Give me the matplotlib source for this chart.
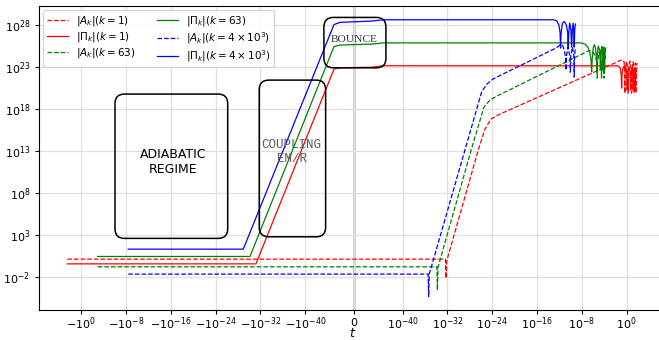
import numpy as np
import matplotlib
matplotlib.use('Agg')
import matplotlib.pyplot as plt
from matplotlib.patches import FancyBboxPatch
from matplotlib.ticker import NullLocator

# each curve: log10|t| for t < 0 (before the bounce), log10|t| for t > 0 (after it),
# and log10 of the amplitude, all read off the log axes
red_A_pre = [2.5]
red_A_post = [-32.36, -32.25, -32.14, -26.5, -25.3, -24.23, -22.63, -1.73, -1.2, -0.75,
              -0.43, -0.34, -0.30, -0.27, -0.04, 0.21, 0.29, 0.36, 0.59, 0.82, 0.89, 0.96,
              1.16, 1.3, 1.36, 1.41, 1.55, 1.66, 1.71, 1.77, 1.84]
red_A_logy = [0.14, 0.14, -2.12, -0.1, 13.12, 15.62, 16.81, 17.4, 23.6, 23.77, 23.89,
              23.6, 22.05, 19.9, 22.05, 23.71, 22.88, 19.9, 22.88, 23.71, 22.64, 19.9, 22.64,
              23.6, 22.4, 19.9, 22.4, 23.48, 22.4, 19.9, 22.4, 23.48]

red_P_pre = [2.5, -31.2, -45.13, -46.2]
red_P_post = [-45.48, -43.52, -1.55, -1.14, -0.96, -0.89, -0.82, -0.66, -0.39, -0.13, 0.05,
              0.11, 0.16, 0.41, 0.63, 0.71, 0.80, 1.0, 1.13, 1.18, 1.23, 1.36, 1.48, 1.54,
              1.59, 1.71]
red_P_logy = [-0.42, -0.42, 22.76, 22.92,
              22.98, 23.16, 23.15, 22.88, 22.05, 20.5, 22.05, 22.88, 23.18, 23.0, 22.05, 20.26,
              22.05, 23.0, 22.4, 20.26, 22.4, 22.88, 22.05, 20.26, 22.05, 22.76, 21.93, 20.26,
              21.93, 22.64]

green_A_pre = [-2.93]
green_A_post = [-33.89, -33.79, -33.68, -27.68, -25.48, -24.41, -23.16, -7.14, -6.55, -6.11,
                -5.57, -5.30, -5.25, -5.2, -4.89, -4.55, -4.48, -4.41, -4.27, -4.11, -4.05,
                -4.0, -3.88, -3.75]
green_A_logy = [-0.77, -0.77, -3.55, -0.81, 13.32, 18.24, 19.07, 19.55, 24.82, 24.96, 24.9,
                24.31, 23.6, 21.69, 23.6, 24.79, 23.6, 21.69, 23.6, 24.55, 23.6, 21.69, 23.6,
                24.55, 23.83]

green_P_pre = [-2.93, -30.13, -45.13, -46.2]
green_P_post = [-45.48, -43.52, -8.16, -7.45, -6.91, -6.55, -6.34, -6.25, -6.16, -5.96,
                -5.75, -5.54, -5.39, -5.34, -5.29, -5.07, -4.80, -4.68, -4.55, -4.41, -4.30,
                -4.25, -4.2, -4.07, -3.98, -3.93, -3.88, -3.75]
green_P_logy = [0.46, 0.46, 25.44, 25.62,
                25.74, 25.88, 25.88, 25.74, 25.38, 24.67, 23.83, 22.4, 23.83, 25.26, 25.68,
                25.26, 24.07, 22.64, 24.07, 25.5, 25.02, 22.64, 25.02, 25.44, 24.43, 22.64,
                24.43, 25.38, 24.43, 22.64, 24.43, 25.26]

blue_A_pre = [-8.39]
blue_A_post = [-35.46, -35.36, -35.25, -28.88, -25.89, -24.95, -23.88, -22.63, -12.45,
               -11.91, -11.46, -11.11, -10.89, -10.84, -10.79, -10.48, -10.13, -10.04, -9.95,
               -9.68, -9.41, -9.36, -9.30, -9.18]
blue_A_logy = [-1.64, -1.64, -4.32, -1.64, 13.12, 20.06, 20.98, 21.57, 21.99, 25.32, 25.62,
               25.62, 25.02, 24.07, 22.64, 24.07, 25.38, 24.31, 22.4, 24.31, 25.38, 24.31,
               21.81, 24.31, 25.14]

blue_P_pre = [-8.39, -28.93, -45.13, -46.2]
blue_P_post = [-45.48, -43.52, -12.98, -12.45, -12.09, -11.88, -11.79, -11.7, -11.46, -11.11,
               -10.75, -10.52, -10.43, -10.34, -10.16, -9.95, -9.82, -9.7, -9.55, -9.45,
               -9.36, -9.27, -9.14]
blue_P_logy = [1.33, 1.33, 28.06, 28.32,
               28.48, 28.63, 28.63, 28.48, 28.0, 27.07, 25.26, 27.07, 28.24, 28.42, 28.0,
               27.07, 25.26, 27.07, 28.24, 27.4, 25.38, 27.4, 28.24, 27.4, 25.38, 27.4, 28.12]

xtick_exp = [0, -8, -16, -24, -32, -40]


def curve(pre, post, logy):
    t = np.concatenate([-10.0 ** np.array(pre), 10.0 ** np.array(post)])
    return t, 10.0 ** np.array(logy)


fig = plt.figure(figsize=(6.59, 3.40), dpi=100)
ax = fig.add_axes([0.0596, 0.088, 0.955, 0.894])
ax.set_xscale('symlog', linthresh=1e-48, linscale=0.63)
ax.set_yscale('log')

ax.axvline(0, color='0.82', lw=2.2, zorder=0)

series = [
    (red_A_pre, red_A_post, red_A_logy, 'r', '--', r'$|A_k|(k=1)$'),
    (red_P_pre, red_P_post, red_P_logy, 'r', '-', r'$|\Pi_k|(k=1)$'),
    (green_A_pre, green_A_post, green_A_logy, 'g', '--', r'$|A_k|(k=63)$'),
    (green_P_pre, green_P_post, green_P_logy, 'g', '-', r'$|\Pi_k|(k=63)$'),
    (blue_A_pre, blue_A_post, blue_A_logy, 'b', '--', r'$|A_k|(k=4\times10^3)$'),
    (blue_P_pre, blue_P_post, blue_P_logy, 'b', '-', r'$|\Pi_k|(k=4\times10^3)$'),
]
for pre, post, logy, c, ls, lab in series:
    t, y = curve(pre, post, logy)
    ax.plot(t, y, color=c, ls=ls, lw=0.9, label=lab)

ax.set_xlim(-3.2e7, 3.2e7)
ax.set_ylim(1.2e-6, 1.8e30)

xt = [-10.0 ** e for e in xtick_exp] + [0] + [10.0 ** e for e in xtick_exp[::-1]]
xl = [r'$-10^{%d}$' % e for e in xtick_exp] + [r'$0$'] + [r'$10^{%d}$' % e for e in xtick_exp[::-1]]
ax.set_xticks(xt)
ax.set_xticklabels(xl)
ax.set_yticks([10.0 ** e for e in range(-2, 29, 5)])
ax.set_yticklabels([r'$10^{%d}$' % e for e in range(-2, 29, 5)])
ax.xaxis.set_minor_locator(NullLocator())
ax.yaxis.set_minor_locator(NullLocator())
ax.tick_params(labelsize=8, length=3)
ax.tick_params(axis='x', pad=1)
ax.grid(True, color='0.88', lw=0.9)
ax.set_axisbelow(True)
ax.set_xlabel(r'$t$', fontsize=9)
ax.xaxis.label.set_va('bottom')
ax.xaxis.set_label_coords(0.4975, -0.097)

ax.legend(loc='upper left', ncol=2, fontsize=7.5, handlelength=2.0, columnspacing=2.0,
          labelspacing=0.2, borderaxespad=0.4, borderpad=0.35)

# annotation boxes (axes fractions)
asp = 629.4 / 304
boxes = [
    (0.1203, 0.2359, 0.1791, 0.4747),
    (0.3495, 0.2411, 0.1055, 0.5155),
    (0.4523, 0.7970, 0.0985, 0.1658),
]
for x0, y0, w, h in boxes:
    ax.add_patch(FancyBboxPatch((x0, y0), w, h, boxstyle='round,pad=0,rounding_size=0.015',
                                mutation_aspect=asp, transform=ax.transAxes,
                                fill=False, ec='black', lw=1.1, zorder=5))

ax.text(0.2120, 0.4878, 'ADIABATIC\nREGIME', transform=ax.transAxes, ha='center',
        va='center', fontsize=9, color='black', linespacing=1.2)
ax.text(0.4010, 0.5207, 'COUPLING\nEM/R', transform=ax.transAxes, ha='center', va='center',
        fontsize=9, family='Liberation Mono', color='0.35', linespacing=1.2)
ax.text(0.5005, 0.8914, 'BOUNCE', transform=ax.transAxes, ha='center', va='center',
        fontsize=8.2, family='Liberation Serif', color='0.2')

fig.savefig('out.png', dpi=100)
